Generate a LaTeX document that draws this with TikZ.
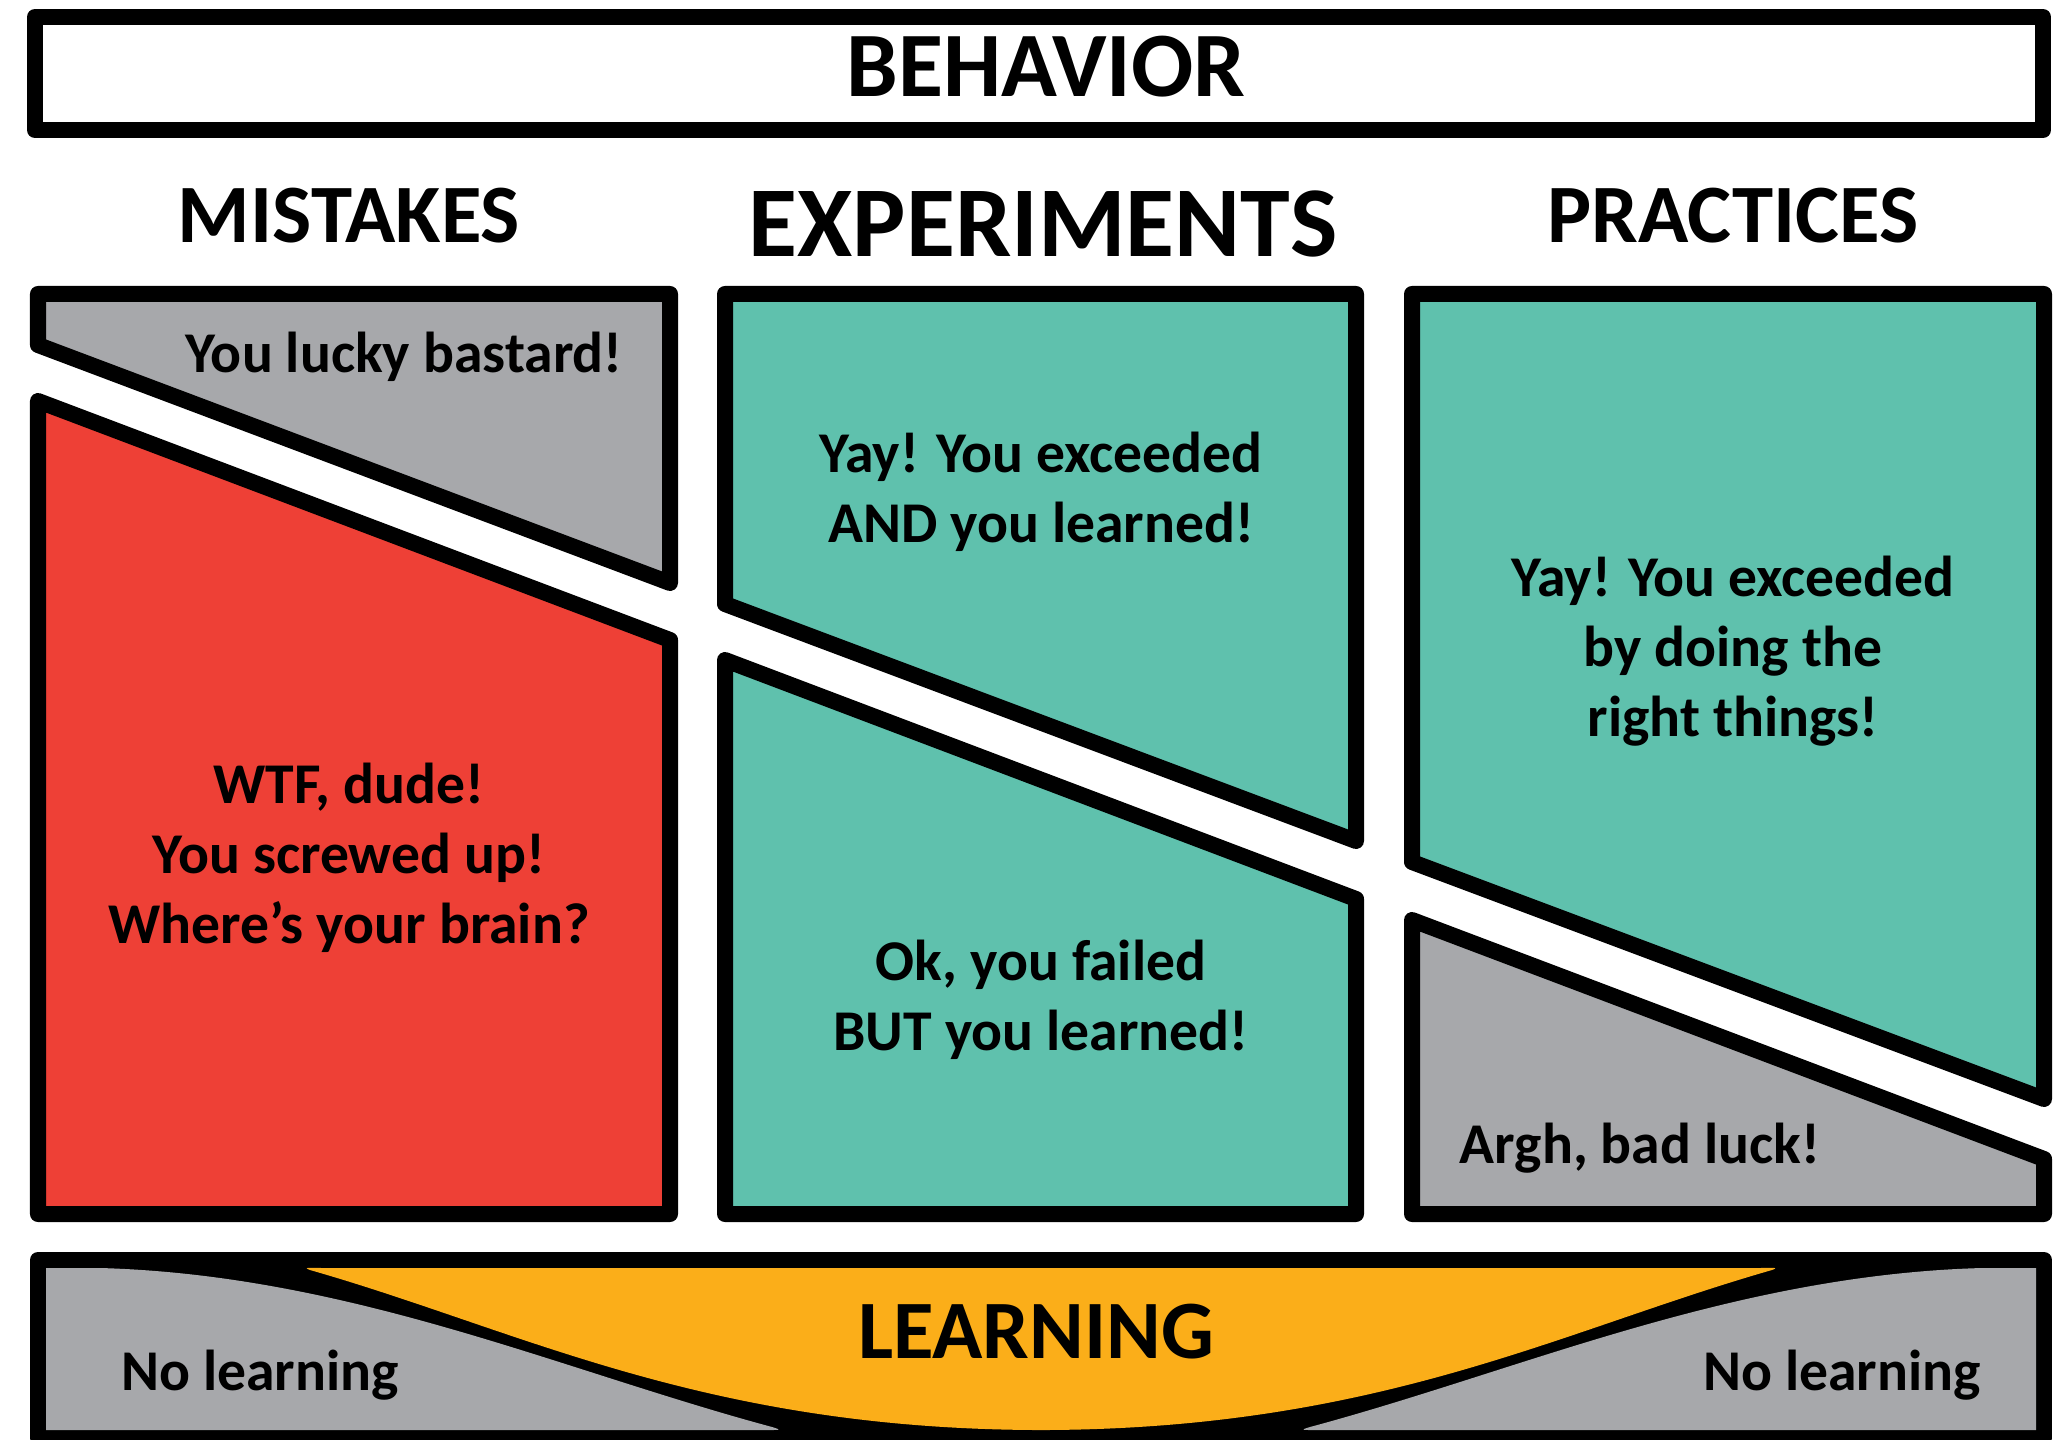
\documentclass[tikz,border=0pt]{standalone}
\usepackage{fontspec}
\setmainfont{Carlito}
\usetikzlibrary{positioning}

\definecolor{luckgray}{HTML}{A7A8AB}
\definecolor{mistakered}{HTML}{EE4036}
\definecolor{learnteal}{HTML}{5FC1AD}
\definecolor{learnorange}{HTML}{FBAE19}

\tikzset{
  panel/.style={draw=black, line width=0.16cm, line join=round},
  heading/.style={font=\fontsize{23.6}{28}\selectfont\bfseries, inner sep=0pt, anchor=base},
  bigheading/.style={heading, font=\fontsize{28.5}{34}\selectfont\bfseries},
  topheading/.style={heading, font=\fontsize{26.2}{31}\selectfont\bfseries},
  saying/.style={font=\fontsize{16.4}{19.9}\selectfont\bfseries, align=center, inner sep=0pt},
}

\begin{document}
\begin{tikzpicture}[x=0.01cm, y=-0.01cm]
  \useasboundingbox (0,0) rectangle (2067,1440);

  % behavior bar
  \draw[panel, fill=white] (35,17) rectangle (2043,130);
  \node[topheading] (behavior) at (1046,97) {BEHAVIOR};

  % column titles
  \node[heading]    (mistakes)    at (349,243)  {MISTAKES};
  \node[bigheading] (experiments) at (1043,257) {EXPERIMENTS};
  \node[heading]    (practices)   at (1733,243) {PRACTICES};

  % mistakes
  \draw[panel, fill=luckgray]   (38,294) -- (670,294) -- (670,583) -- (38,345) -- cycle;
  \draw[panel, fill=mistakered] (38,401) -- (670,640) -- (670,1214) -- (38,1214) -- cycle;
  % experiments
  \draw[panel, fill=learnteal]  (725,294) -- (1356,294) -- (1356,841) -- (725,604) -- cycle;
  \draw[panel, fill=learnteal]  (725,660) -- (1356,899) -- (1356,1214) -- (725,1214) -- cycle;
  % practices
  \draw[panel, fill=learnteal]  (1412,294) -- (2044,294) -- (2044,1099) -- (1412,862) -- cycle;
  \draw[panel, fill=luckgray]   (1412,920) -- (2044,1159) -- (2044,1214) -- (1412,1214) -- cycle;

  \node[saying, anchor=base] (lucky)       at (404,373)  {You lucky bastard!};
  \node[saying]              (screwed)     at (349,858)  {WTF, dude!\\You screwed up!\\Where’s your brain?};
  \node[saying]              (exceeded)    at (1041,492) {Yay! You exceeded\\AND you learned!};
  \node[saying]              (failed)      at (1041,1000) {Ok, you failed\\BUT you learned!};
  \node[saying]              (rightthings) at (1733,651) {Yay! You exceeded\\by doing the\\right things!};
  \node[saying, anchor=base] (badluck)     at (1640,1163) {Argh, bad luck!};

  % learning bar
  \draw[panel, fill=black] (38,1260) rectangle (2044,1438);
  \foreach \side in {1,-1}
    \fill[luckgray, shift={(1041,0)}, xscale=\side]
      (-995,1268) -- (-941,1268) .. controls (-691,1275) and (-481,1370) .. (-269,1427)
      .. controls (-259,1430) and (-261,1430) .. (-271,1430) -- (-995,1430) -- cycle;
  \fill[learnorange] (310,1270) .. controls (302,1267) and (310,1268) .. (322,1268) -- (1760,1268)
    .. controls (1772,1268) and (1780,1267) .. (1772,1270)
    .. controls (1562,1330) and (1382,1428) .. (1048,1430) -- (1034,1430)
    .. controls (700,1428) and (520,1330) .. (310,1270) -- cycle;

  \node[heading]             (learning)     at (1036,1358) {LEARNING};
  \node[saying, anchor=base] (nolearnleft)  at (260,1390)  {No learning};
  \node[saying, anchor=base] (nolearnright) at (1842,1390) {No learning};
\end{tikzpicture}
\end{document}
